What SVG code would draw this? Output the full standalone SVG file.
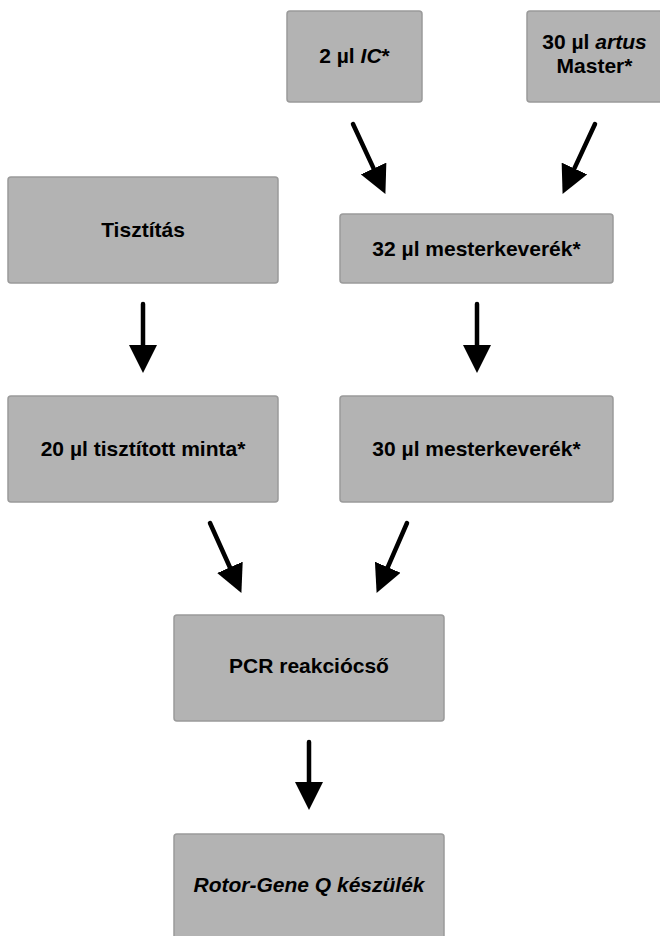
<svg xmlns="http://www.w3.org/2000/svg" width="660" height="936" viewBox="0 0 660 936">
<style>
.box{fill:#b3b3b3;stroke:#9a9a9a;stroke-width:1.5}
.t{font-family:"Liberation Sans",Arial,sans-serif;font-weight:bold;font-size:21px;fill:#000;text-anchor:middle}
.i{font-style:italic}
.c{stroke:#000;stroke-width:4.5;stroke-linecap:round;fill:none;marker-end:url(#ah)}
</style>
<defs>
<marker id="ah" viewBox="0 0 28 28" refX="1" refY="14" markerWidth="28" markerHeight="28" markerUnits="userSpaceOnUse" orient="auto">
<path d="M0,0 L28,14 L0,28 z" fill="#000"/>
</marker>
</defs>
<rect width="660" height="936" fill="#fff"/>
<g id="ic">
<rect class="box" x="287" y="11" width="135" height="91" rx="3"/>
<text class="t" x="354.5" y="63">2 µl <tspan class="i">IC</tspan>*</text>
</g>
<g id="master">
<rect class="box" x="527" y="11" width="135" height="91" rx="3"/>
<text class="t" x="594.5" y="49">30 µl <tspan class="i">artus</tspan></text>
<text class="t" x="594.5" y="73">Master*</text>
</g>
<g id="tisztitas">
<rect class="box" x="8" y="177" width="270" height="106" rx="3"/>
<text class="t" x="143" y="237">Tisztítás</text>
</g>
<g id="mix32">
<rect class="box" x="340" y="214" width="273" height="69" rx="3"/>
<text class="t" x="476.5" y="256">32 µl mesterkeverék*</text>
</g>
<g id="minta">
<rect class="box" x="8" y="396" width="270" height="106" rx="3"/>
<text class="t" x="143" y="456">20 µl tisztított minta*</text>
</g>
<g id="mix30">
<rect class="box" x="340" y="396" width="273" height="106" rx="3"/>
<text class="t" x="476.5" y="456">30 µl mesterkeverék*</text>
</g>
<g id="pcr">
<rect class="box" x="174" y="615" width="270" height="106" rx="3"/>
<text class="t" x="309" y="673">PCR reakciócső</text>
</g>
<g id="rotor">
<rect class="box" x="174" y="834" width="270" height="106" rx="3"/>
<text class="t i" x="309" y="892">Rotor-Gene Q készülék</text>
</g>
<g id="connectors">
<path class="c" d="M353,124 L374.06,169.41"/>
<path class="c" d="M595,124 L573.94,169.41"/>
<path class="c" d="M143,304 L143,346"/>
<path class="c" d="M477,304 L477,346"/>
<path class="c" d="M210,523 L230.34,568.28"/>
<path class="c" d="M407,523 L387.37,568.16"/>
<path class="c" d="M309,742 L309,783"/>
</g>
</svg>
